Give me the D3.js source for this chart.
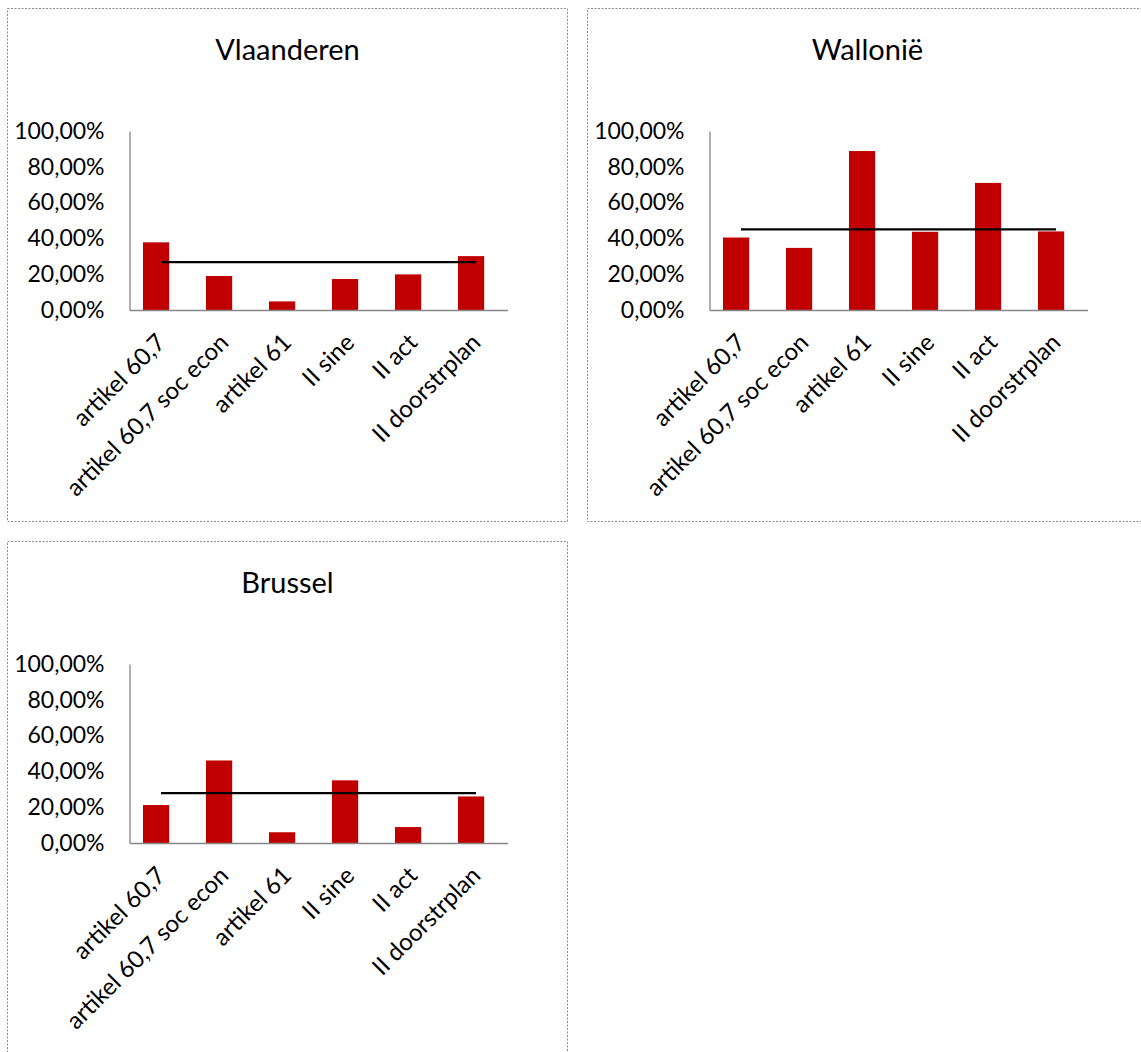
<!DOCTYPE html>
<html lang="nl">
<head>
<meta charset="UTF-8">
<script src="https://d3js.org/d3.v7.min.js"></script>
<style>
  body { margin: 0; background: #fff; }
  svg { display: block; font-family: Lato, "Open Sans", sans-serif; }
</style>
</head>
<body>
<div id="chart"></div>
<script>
// data
var categories = ["artikel 60,7", "artikel 60,7 soc econ", "artikel 61", "II sine", "II act", "II doorstrplan"];
var yTicks = [0, 0.2, 0.4, 0.6, 0.8, 1.0];
var regions = ["Vlaanderen", "Wallonië", "Brussel"];
var vlaanderen = [0.378, 0.190, 0.048, 0.173, 0.199, 0.301];
var wallonie = [0.405, 0.347, 0.888, 0.437, 0.710, 0.439];
var brussel = [0.212, 0.461, 0.060, 0.350, 0.089, 0.260];
var averages = [0.268, 0.450, 0.279];

var seriesValues = [vlaanderen, wallonie, brussel];

// where each chart box sits on the page
var panels = [
  {x: 7.5, y: 8.5, w: 560, h: 513},
  {x: 587.5, y: 8.5, w: 600, h: 513},
  {x: 7.5, y: 541.5, w: 560, h: 560}
];

var W = 1141, H = 1052;
var svg = d3.select("#chart").append("svg")
  .attr("width", W)
  .attr("height", H);

svg.append("rect").attr("width", W).attr("height", H).attr("fill", "#fff");

var fmt = function(d) { return d3.format(".2f")(d * 100).replace(".", ",") + "%"; };

function drawPanel(p, title, values, avg) {
  var g = svg.append("g").attr("transform", "translate(" + p.x + "," + p.y + ")");

  // dotted chart border
  g.append("rect")
    .attr("width", p.w)
    .attr("height", p.h)
    .attr("fill", "none")
    .attr("stroke", "#8c8c8c")
    .attr("stroke-width", 1)
    .attr("stroke-dasharray", "2,1.5");

  g.append("text")
    .attr("x", 280)
    .attr("y", 51)
    .attr("text-anchor", "middle")
    .style("font-size", "29px")
    .attr("fill", "#000")
    .text(title);

  var x = d3.scaleBand().domain(categories).range([122, 500]);
  var y = d3.scaleLinear().domain([0, 1]).range([301.5, 122.5]);

  // y axis
  var ya = g.append("g")
    .attr("transform", "translate(122,0)")
    .call(d3.axisLeft(y).tickValues(yTicks).tickSize(0).tickSizeOuter(0).tickPadding(25).tickFormat(fmt))
    .attr("font-family", null)
    .attr("font-size", null);
  ya.select(".domain").attr("stroke", "#868686").attr("stroke-width", 1.3);
  ya.selectAll("text").style("font-size", "23px").attr("fill", "#000");

  // bars
  var barW = x.step() * 0.416;
  var barShift = -x.step() * 0.078;
  g.selectAll("rect.bar")
    .data(values)
    .enter()
    .append("rect")
    .attr("class", "bar")
    .attr("x", function(d, i) { return x(categories[i]) + x.bandwidth() / 2 + barShift - barW / 2; })
    .attr("y", function(d) { return y(d); })
    .attr("width", barW)
    .attr("height", function(d) { return y(0) - y(d); })
    .attr("fill", "#c00000");

  // x axis
  var xa = g.append("g")
    .attr("transform", "translate(0," + y(0) + ")")
    .call(d3.axisBottom(x).tickSize(0).tickSizeOuter(0))
    .attr("font-family", null)
    .attr("font-size", null);
  xa.select(".domain").attr("stroke", "#868686").attr("stroke-width", 1.3);
  xa.selectAll("text")
    .attr("x", 0)
    .attr("y", 0)
    .attr("dy", "0.35em")
    .attr("text-anchor", "end")
    .attr("transform", "translate(0,28) rotate(-45)")
    .style("font-size", "24px")
    .attr("fill", "#000");

  // average line
  var line = d3.line()
    .x(function(d) { return x(d) + x.bandwidth() / 2; })
    .y(function() { return y(avg); });
  g.append("path")
    .datum(categories)
    .attr("d", line)
    .attr("fill", "none")
    .attr("stroke", "#000")
    .attr("stroke-width", 2.3);
}

regions.forEach(function(r, i) {
  drawPanel(panels[i], r, seriesValues[i], averages[i]);
});
</script>
</body>
</html>
